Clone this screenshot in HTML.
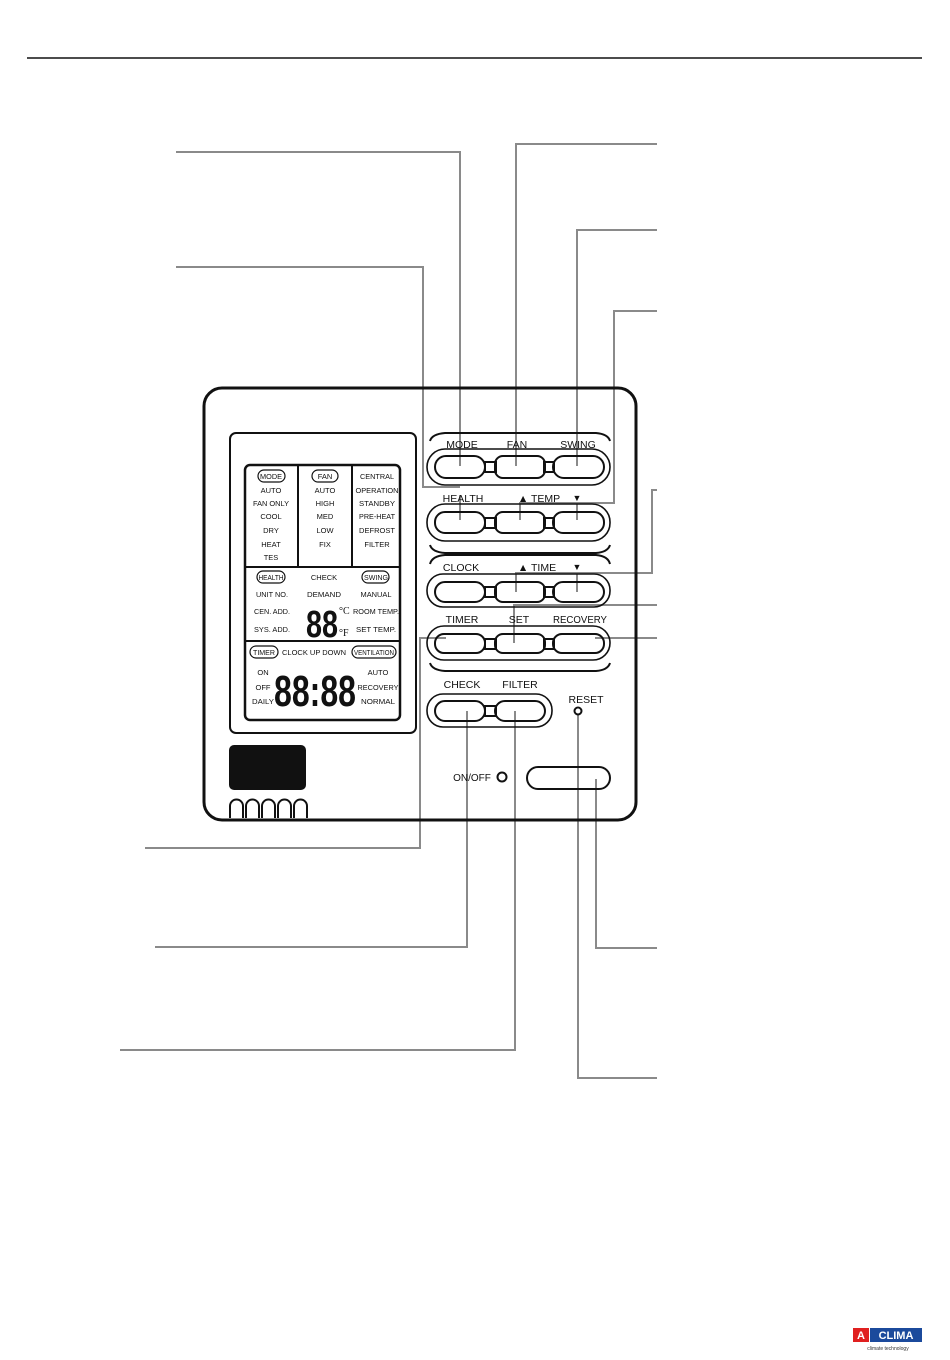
<!DOCTYPE html>
<html><head><meta charset="utf-8"><style>
html,body{margin:0;padding:0;background:#fff;}
svg{display:block;}
text{font-family:"Liberation Sans",sans-serif;fill:#111;}
.l{font-size:7.5px;text-anchor:middle;}
.b{font-size:10.5px;text-anchor:middle;}
</style></head><body>
<svg width="950" height="1360" viewBox="0 0 950 1360" xmlns="http://www.w3.org/2000/svg">
<line x1="27" y1="58" x2="922" y2="58" stroke="#111" stroke-width="1.5"/>
<g fill="none" stroke="#8a8a8a" stroke-width="2">
<path d="M176 152 H460 V466"/>
<path d="M176 267 H423 V487 H460 M460 495 V520"/>
<path d="M657 144 H516 V466"/>
<path d="M657 230 H577 V466"/>
<path d="M657 311 H614 V503 H520 V520 M577 503 V520"/>
<path d="M657 490 H652 V573 H516 V592 M577 573 V592"/>
<path d="M657 605 H514 V643"/>
<path d="M657 638 H595"/>
<path d="M145 848 H420 V638 H446"/>
<path d="M155 947 H467 V711"/>
<path d="M120 1050 H515 V711"/>
<path d="M657 948 H596 V779"/>
<path d="M657 1078 H578 V715"/>
</g>
<rect x="204" y="388" width="432" height="432" rx="18" fill="none" stroke="#111" stroke-width="3"/>
<rect x="230" y="433" width="186" height="300" rx="6" fill="#fff" stroke="#111" stroke-width="2"/>
<rect x="245" y="465" width="155" height="255" rx="5" fill="none" stroke="#111" stroke-width="2.5"/>
<line x1="298" y1="465" x2="298" y2="567" stroke="#111" stroke-width="2"/>
<line x1="352" y1="465" x2="352" y2="567" stroke="#111" stroke-width="2"/>
<line x1="245" y1="567" x2="400" y2="567" stroke="#111" stroke-width="2"/>
<line x1="245" y1="641" x2="400" y2="641" stroke="#111" stroke-width="2"/>
<g fill="none" stroke="#111" stroke-width="1.2">
<rect x="258" y="470" width="27" height="12" rx="6"/>
<rect x="312" y="470" width="26" height="12" rx="6"/>
<rect x="257" y="571" width="28" height="12" rx="6"/>
<rect x="362" y="571" width="27" height="12" rx="6"/>
<rect x="250" y="646" width="28" height="12" rx="6"/>
<rect x="352" y="646" width="44" height="12" rx="6"/>
</g>
<text class="l" x="271" y="479" textLength="22" lengthAdjust="spacingAndGlyphs">MODE</text>
<text class="l" x="325" y="479">FAN</text>
<text class="l" x="377" y="479" textLength="34" lengthAdjust="spacingAndGlyphs">CENTRAL</text>
<text class="l" x="271" y="493">AUTO</text><text class="l" x="325" y="493">AUTO</text><text class="l" x="377" y="493" textLength="43" lengthAdjust="spacingAndGlyphs">OPERATION</text>
<text class="l" x="271" y="506" textLength="36" lengthAdjust="spacingAndGlyphs">FAN ONLY</text><text class="l" x="325" y="506">HIGH</text><text class="l" x="377" y="506" textLength="36" lengthAdjust="spacingAndGlyphs">STANDBY</text>
<text class="l" x="271" y="519">COOL</text><text class="l" x="325" y="519">MED</text><text class="l" x="377" y="519" textLength="36" lengthAdjust="spacingAndGlyphs">PRE-HEAT</text>
<text class="l" x="271" y="533">DRY</text><text class="l" x="325" y="533">LOW</text><text class="l" x="377" y="533" textLength="36" lengthAdjust="spacingAndGlyphs">DEFROST</text>
<text class="l" x="271" y="547">HEAT</text><text class="l" x="325" y="547">FIX</text><text class="l" x="377" y="547">FILTER</text>
<text class="l" x="271" y="560">TES</text>
<text class="l" x="271" y="580" textLength="25" lengthAdjust="spacingAndGlyphs">HEALTH</text><text class="l" x="324" y="580">CHECK</text><text class="l" x="376" y="580" textLength="24" lengthAdjust="spacingAndGlyphs">SWING</text>
<text class="l" x="272" y="597" textLength="32" lengthAdjust="spacingAndGlyphs">UNIT NO.</text><text class="l" x="324" y="597" textLength="34" lengthAdjust="spacingAndGlyphs">DEMAND</text><text class="l" x="376" y="597" textLength="31" lengthAdjust="spacingAndGlyphs">MANUAL</text>
<text class="l" x="272" y="614" textLength="36" lengthAdjust="spacingAndGlyphs">CEN. ADD.</text><text class="l" x="376" y="614" textLength="46" lengthAdjust="spacingAndGlyphs">ROOM TEMP.</text>
<text class="l" x="272" y="632" textLength="36" lengthAdjust="spacingAndGlyphs">SYS. ADD.</text><text class="l" x="376" y="632" textLength="40" lengthAdjust="spacingAndGlyphs">SET TEMP.</text>
<text x="306" y="637" textLength="32" lengthAdjust="spacingAndGlyphs" style="font-size:38px;font-weight:bold;">88</text>
<text x="339" y="614" style="font-size:10px;font-family:'Liberation Serif',serif">°C</text>
<text x="339" y="636" style="font-size:10px;font-family:'Liberation Serif',serif">°F</text>
<text class="l" x="264" y="655" textLength="22" lengthAdjust="spacingAndGlyphs">TIMER</text><text class="l" x="314" y="655" textLength="64" lengthAdjust="spacingAndGlyphs">CLOCK UP  DOWN</text><text class="l" x="374" y="655" textLength="40" lengthAdjust="spacingAndGlyphs">VENTILATION</text>
<text class="l" x="263" y="675">ON</text><text class="l" x="263" y="690">OFF</text><text class="l" x="263" y="704" textLength="22" lengthAdjust="spacingAndGlyphs">DAILY</text>
<text class="l" x="378" y="675">AUTO</text><text class="l" x="378" y="690" textLength="41" lengthAdjust="spacingAndGlyphs">RECOVERY</text><text class="l" x="378" y="704" textLength="34" lengthAdjust="spacingAndGlyphs">NORMAL</text>
<text x="274" y="706" textLength="82" lengthAdjust="spacingAndGlyphs" style="font-size:44px;font-weight:bold;">88:88</text>
<rect x="229" y="745" width="77" height="45" rx="5" fill="#111"/>
<path d="M230 818 V806 a6.5 6.5 0 0 1 13 0 V818 M246 818 V806 a6.5 6.5 0 0 1 13 0 V818 M262 818 V806 a6.5 6.5 0 0 1 13 0 V818 M278 818 V806 a6.5 6.5 0 0 1 13 0 V818 M294 818 V806 a6.5 6.5 0 0 1 13 0 V818" fill="none" stroke="#111" stroke-width="2"/>
<g fill="none" stroke="#111" stroke-width="2">
<path d="M430 441 Q432 434 445 433 H596 Q608 434 610 441"/>
<path d="M430 545 Q432 552 445 553 H596 Q608 552 610 545"/>
<path d="M430 564 Q432 556 445 555 H596 Q608 556 610 564"/>
<path d="M430 663 Q432 670 445 671 H596 Q608 670 610 663"/>
</g>
<g fill="none" stroke="#111" stroke-width="1.6">
<rect x="427" y="449" width="183" height="36" rx="18"/>
<rect x="427" y="504" width="183" height="37" rx="18"/>
<rect x="427" y="574" width="183" height="33" rx="16"/>
<rect x="427" y="626" width="183" height="34" rx="17"/>
<rect x="427" y="694" width="125" height="33" rx="16"/>
</g>
<g fill="none" stroke="#111" stroke-width="2">
<rect x="485" y="462" width="11" height="10"/><rect x="544" y="462" width="10" height="10"/>
<rect x="485" y="518" width="11" height="10"/><rect x="544" y="518" width="10" height="10"/>
<rect x="485" y="587" width="11" height="10"/><rect x="544" y="587" width="10" height="10"/>
<rect x="485" y="639" width="11" height="10"/><rect x="544" y="639" width="10" height="10"/>
<rect x="485" y="706" width="11" height="10"/>
<rect x="435" y="456" width="50" height="22" rx="11"/><rect x="495" y="456" width="50" height="22" rx="8"/><rect x="553" y="456" width="51" height="22" rx="11"/>
<rect x="435" y="512" width="50" height="21" rx="10"/><rect x="495" y="512" width="50" height="21" rx="8"/><rect x="553" y="512" width="51" height="21" rx="10"/>
<rect x="435" y="582" width="50" height="20" rx="10"/><rect x="495" y="582" width="50" height="20" rx="8"/><rect x="553" y="582" width="51" height="20" rx="10"/>
<rect x="435" y="634" width="50" height="19" rx="9"/><rect x="495" y="634" width="50" height="19" rx="8"/><rect x="553" y="634" width="51" height="19" rx="9"/>
<rect x="435" y="701" width="50" height="20" rx="10"/><rect x="495" y="701" width="50" height="20" rx="10"/>
<rect x="527" y="767" width="83" height="22" rx="11"/>
<circle cx="502" cy="777" r="4.5"/><circle cx="578" cy="711" r="3.5"/>
</g>
<text class="b" x="462" y="448">MODE</text><text class="b" x="517" y="448">FAN</text><text class="b" x="578" y="448">SWING</text>
<text class="b" x="463" y="502">HEALTH</text><text class="b" x="539" y="502">▲ TEMP</text><text class="b" x="577" y="501" style="font-size:9px">▼</text>
<text class="b" x="461" y="571">CLOCK</text><text class="b" x="537" y="571">▲ TIME</text><text class="b" x="577" y="570" style="font-size:9px">▼</text>
<text class="b" x="462" y="623">TIMER</text><text class="b" x="519" y="623">SET</text><text class="b" x="580" y="623" textLength="54" lengthAdjust="spacingAndGlyphs">RECOVERY</text>
<text class="b" x="462" y="688">CHECK</text><text class="b" x="520" y="688">FILTER</text>
<text class="b" x="586" y="703">RESET</text>
<text class="b" x="472" y="781" style="font-size:10px">ON/OFF</text>
<rect x="853" y="1328" width="16" height="14" fill="#e02020"/>
<text x="861" y="1339" style="font-size:11px;font-weight:bold;fill:#fff;text-anchor:middle">A</text>
<rect x="870" y="1328" width="52" height="14" fill="#1b4a9c"/>
<text x="896" y="1339" style="font-size:11px;font-weight:bold;fill:#fff;text-anchor:middle">CLIMA</text>
<text x="888" y="1350" style="font-size:5px;fill:#333;text-anchor:middle">climate technology</text>
</svg>
</body></html>
